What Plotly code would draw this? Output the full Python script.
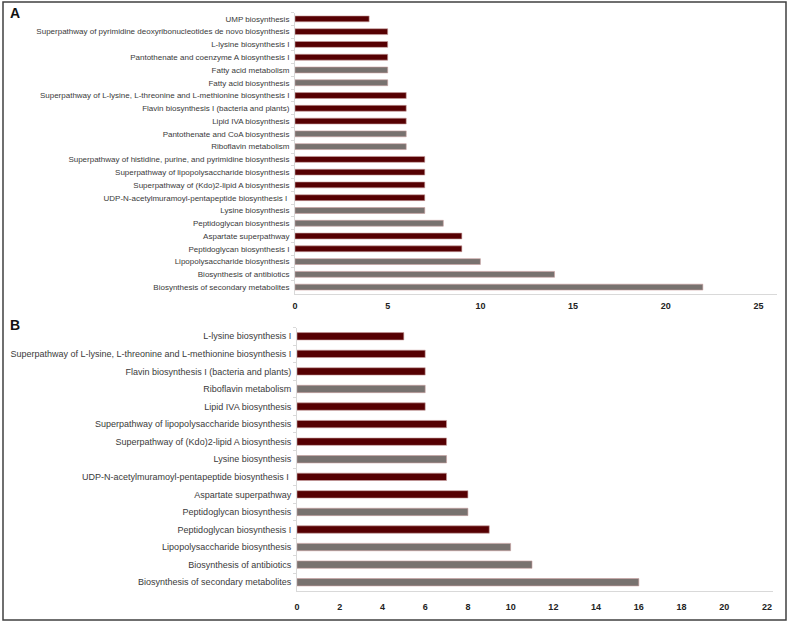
import plotly.graph_objects as go

W, H = 792, 624

# Panel A data (top to bottom)
a_labels = [
    "UMP biosynthesis",
    "Superpathway of pyrimidine deoxyribonucleotides de novo biosynthesis",
    "L-lysine biosynthesis I",
    "Pantothenate and coenzyme A biosynthesis I",
    "Fatty acid metabolism",
    "Fatty acid biosynthesis",
    "Superpathway of L-lysine, L-threonine and L-methionine biosynthesis I",
    "Flavin biosynthesis I (bacteria and plants)",
    "Lipid IVA biosynthesis",
    "Pantothenate and CoA biosynthesis",
    "Riboflavin metabolism",
    "Superpathway of histidine, purine, and pyrimidine biosynthesis",
    "Superpathway of lipopolysaccharide biosynthesis",
    "Superpathway of (Kdo)2-lipid A biosynthesis",
    "UDP-N-acetylmuramoyl-pentapeptide biosynthesis I ",
    "Lysine biosynthesis",
    "Peptidoglycan biosynthesis",
    "Aspartate superpathway",
    "Peptidoglycan biosynthesis I",
    "Lipopolysaccharide biosynthesis",
    "Biosynthesis of antibiotics",
    "Biosynthesis of secondary metabolites",
]
a_values = [4, 5, 5, 5, 5, 5, 6, 6, 6, 6, 6, 7, 7, 7, 7, 7, 8, 9, 9, 10, 14, 22]
a_source = ["M", "M", "M", "M", "K", "K", "M", "M", "M", "K", "K",
            "M", "M", "M", "M", "K", "K", "M", "M", "K", "K", "K"]
a_ticks = [0, 5, 10, 15, 20, 25]

# Panel B data (top to bottom)
b_labels = [
    "L-lysine biosynthesis I",
    "Superpathway of L-lysine, L-threonine and L-methionine biosynthesis I",
    "Flavin biosynthesis I (bacteria and plants)",
    "Riboflavin metabolism",
    "Lipid IVA biosynthesis",
    "Superpathway of lipopolysaccharide biosynthesis",
    "Superpathway of (Kdo)2-lipid A biosynthesis",
    "Lysine biosynthesis",
    "UDP-N-acetylmuramoyl-pentapeptide biosynthesis I ",
    "Aspartate superpathway",
    "Peptidoglycan biosynthesis",
    "Peptidoglycan biosynthesis I",
    "Lipopolysaccharide biosynthesis",
    "Biosynthesis of antibiotics",
    "Biosynthesis of secondary metabolites",
]
b_values = [5, 6, 6, 6, 6, 7, 7, 7, 7, 8, 8, 9, 10, 11, 16]
b_source = ["M", "M", "M", "K", "M", "M", "M", "K", "M", "M", "K", "M", "K", "K", "K"]
b_ticks = [0, 2, 4, 6, 8, 10, 12, 14, 16, 18, 20, 22]

COLORS = {"M": "#560002", "K": "#78726f"}
TEXT = "#3a3a3a"
AXIS = "#d9d9d9"


def px_x(p):
    return p / W


def px_y(p):
    return 1 - p / H


fig = go.Figure()

fig.add_trace(go.Bar(
    x=a_values, y=a_labels, orientation="h",
    marker=dict(color=[COLORS[s] for s in a_source], line=dict(width=0.6, color="#c9a0a0")),
    width=0.46, xaxis="x", yaxis="y", showlegend=False, hoverinfo="x+y",
))
fig.add_trace(go.Bar(
    x=b_values, y=b_labels, orientation="h",
    marker=dict(color=[COLORS[s] for s in b_source], line=dict(width=0.6, color="#c9a0a0")),
    width=0.42, xaxis="x2", yaxis="y2", showlegend=False, hoverinfo="x+y",
))

nA, nB = len(a_labels), len(b_labels)

fig.update_layout(
    width=W, height=H,
    margin=dict(l=0, r=0, t=0, b=0, autoexpand=False),
    paper_bgcolor="white", plot_bgcolor="white",
    font=dict(family="Liberation Sans, Arial, sans-serif", color=TEXT),
    xaxis=dict(
        domain=[px_x(295), px_x(777)], range=[0, 26], anchor="y",
        tickvals=a_ticks, showgrid=False, zeroline=False, automargin=False,
        showline=True, linecolor=AXIS, linewidth=1, ticks="",
        tickfont=dict(size=9, color="#222", weight="bold"),
        ticklabelstandoff=4,
    ),
    yaxis=dict(
        domain=[px_y(293.5), px_y(12.5)], anchor="x", automargin=False,
        type="category", categoryorder="array", categoryarray=a_labels,
        range=[nA - 0.5, -0.5], showgrid=False, zeroline=False,
        showline=True, linecolor=AXIS, linewidth=1,
        ticks="outside", tickson="boundaries", ticklen=3, tickcolor=AXIS,
        tickfont=dict(size=8, color=TEXT), ticklabelstandoff=3,
    ),
    xaxis2=dict(
        domain=[px_x(297), px_x(773)], range=[0, 22.28], anchor="y2",
        tickvals=b_ticks, showgrid=False, zeroline=False, automargin=False,
        showline=True, linecolor=AXIS, linewidth=1, ticks="",
        tickfont=dict(size=9, color="#222", weight="bold"),
        ticklabelstandoff=7,
    ),
    yaxis2=dict(
        domain=[px_y(591), px_y(327.5)], anchor="x2", automargin=False,
        type="category", categoryorder="array", categoryarray=b_labels,
        range=[nB - 0.5, -0.5], showgrid=False, zeroline=False,
        showline=True, linecolor=AXIS, linewidth=1,
        ticks="outside", tickson="boundaries", ticklen=3, tickcolor=AXIS,
        tickfont=dict(size=9, color=TEXT), ticklabelstandoff=3,
    ),
    annotations=[
        dict(text="<b>A</b>", x=px_x(8), y=px_y(13), xref="paper", yref="paper",
             xanchor="left", yanchor="middle", showarrow=False,
             font=dict(size=14, color="#111", family="Liberation Sans, Arial")),
        dict(text="<b>B</b>", x=px_x(8), y=px_y(325), xref="paper", yref="paper",
             xanchor="left", yanchor="middle", showarrow=False,
             font=dict(size=14, color="#111", family="Liberation Sans, Arial")),
    ],
    shapes=[
        dict(type="rect", xref="paper", yref="paper",
             x0=px_x(3), x1=px_x(786), y0=px_y(620), y1=px_y(2),
             line=dict(color="#404040", width=1.5), fillcolor="rgba(0,0,0,0)"),
    ],
)

fig.write_html(
    "out.html",
    config={"displayModeBar": False},
    post_script="document.body.style.margin='0';document.body.style.overflow='hidden';",
)
